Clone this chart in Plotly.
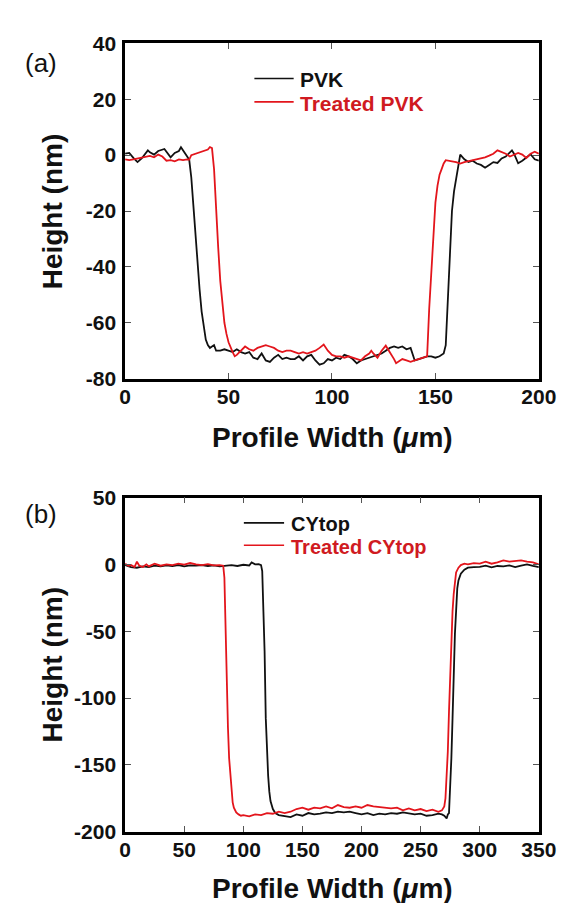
import plotly.graph_objects as go

# ---------------- data ----------------
pvk_x = [0, 2, 4, 6, 8, 10, 11, 12, 14, 16, 18, 19, 20, 22, 24, 26, 27, 28, 30, 31,
         32, 33, 34, 35, 36, 37, 38, 39, 40, 41, 42, 43, 44, 46, 48, 50, 52, 54, 56, 58,
         60, 62, 64, 66, 68, 70, 72, 74, 76, 78, 80, 82, 84, 86, 88, 90, 92, 94, 96, 98,
         100, 102, 104, 106, 108, 110, 112, 114, 116, 118, 120, 122, 124, 126, 128, 130,
         132, 134, 136, 138, 140, 142, 144, 146, 148, 150, 152, 154, 155, 156, 157, 158,
         159, 160, 161, 162, 164, 166, 168, 170, 172, 174, 176, 178, 180, 182, 184, 186,
         187, 188, 190, 192, 194, 196, 198, 200]
pvk_y = [0.5, 0.8, -1.0, -2.5, -1.2, 0.5, 1.7, 1.0, 0.2, 1.5, 2.0, 2.2, 1.2, -0.8, 0.8, 1.5, 2.8, 1.8, -0.5, -1.7,
         -8, -18, -29, -39, -48, -56, -62, -66, -68, -69, -68.5, -68, -70, -70, -69.5, -70, -70.5, -69.5, -70.5, -71,
         -70.5, -72.5, -73, -71, -73.5, -74, -72.5, -71.5, -73, -72.5, -73, -73, -72, -73.5, -72, -71.5, -73.5, -75, -74.5, -73,
         -73.5, -72.5, -73, -71.5, -72, -73, -74.5, -73.5, -73, -72.5, -72, -71.5, -71, -70, -69, -68.5,
         -69, -68.5, -69.5, -69, -73.5, -73, -72.5, -72, -72, -72.5, -72, -71, -68, -50, -33, -20,
         -13, -8.5, -4, 0.2, -1.5, -2.5, -2, -3, -3.5, -4.5, -3.5, -2.5, -2.8, -1.2, -0.5, 0.8,
         1.7, 0.5, -2.9, -2, -1, 0.3, -1.5, -2]

tpvk_x = [0, 2, 4, 6, 8, 10, 12, 14, 16, 18, 20, 22, 24, 26, 28, 30, 31, 32, 34, 36,
          38, 40, 41, 42, 43, 44, 45, 46, 47, 48, 49, 50, 52, 53, 54, 56, 58, 60, 62, 64,
          66, 68, 70, 72, 74, 76, 78, 80, 82, 84, 86, 88, 90, 92, 94, 96, 98, 100, 102, 104,
          106, 108, 110, 112, 114, 116, 118, 119, 120, 122, 124, 126, 128, 130, 131, 132, 134, 136, 138, 140,
          142, 144, 146, 147, 148, 149, 150, 151, 152, 153, 154, 155, 156, 158, 160, 162, 164, 166, 168, 170,
          172, 174, 176, 178, 180, 182, 184, 186, 188, 190, 192, 194, 196, 198, 200]
tpvk_y = [-1.5, -1.8, -1.5, -1.2, -0.8, -0.5, -0.3, -0.8, 0.2, -0.5, -2, -1.8, -2.2, -1.5, -1.8, -1.5, -1.6, 0, 0.5, 0.8,
          1.5, 2, 2.9, 2.5, -5, -21, -33, -45, -54, -60, -64, -67, -70.5, -72, -71.5, -70, -68.5, -69.5, -70, -69,
          -68.5, -68, -68.5, -69, -70, -70.5, -70, -70, -70.5, -71, -70.5, -71, -70.5, -70, -69, -67.8, -70, -71.5, -72, -72,
          -72.5, -72, -72.5, -73, -73.5, -72, -71, -70, -71, -72.5, -70, -68.2, -70.5, -73, -74.5, -74, -73, -73.5, -74, -73.5,
          -73, -72.5, -72, -55, -42, -28, -17, -11, -7, -5, -3, -1.8, -2, -2.2, -2.5, -3, -2.5, -2.2, -1.8, -1.5,
          -1.2, -0.8, -0.2, 0.5, 1.7, 1, 0.5, -0.5, 0.2, 0.8, 0.2, -1, 0.5, 1.2, 0.5]

cy_x = [0, 5, 10, 15, 20, 25, 30, 35, 40, 45, 50, 55, 60, 65, 70, 75, 80, 85, 90, 95,
        100, 105, 107, 110, 113, 115, 116, 117, 118, 119, 120, 121, 122, 123, 125, 127, 130, 135, 140, 145,
        150, 155, 160, 165, 170, 175, 180, 185, 190, 195, 200, 205, 210, 215, 220, 225, 230, 235, 240, 245,
        250, 255, 260, 265, 268, 270, 272, 273, 274, 275, 276, 277, 278, 279, 280, 281, 282, 284, 287, 290,
        295, 300, 305, 310, 315, 320, 325, 330, 335, 340, 345, 350]
cy_y = [-0.5, -2, -2.5, -1.5, -2, -1, -1.5, -0.8, -1.2, -0.5, -1.5, -0.8, -1, -0.5, -1.2, -0.8, -1.5, -1, -0.5, -1.2,
        -0.3, -0.8, 1.5, 0, 0.2, -0.5, -5, -35, -65, -115, -140, -158, -170, -177, -183, -186, -187.5, -188, -189, -187,
        -188, -186, -187, -186.5, -185.5, -186, -185, -185.5, -185, -186, -187, -186, -187.5, -186.5, -187, -186, -186.5, -185.5, -186, -187,
        -186.5, -188, -187.5, -186.5, -187, -188, -190, -187, -186, -170, -145, -115, -80, -52, -35, -18, -12, -7, -4, -2.5,
        -2, -1.8, -1, -2.2, -1.2, -1.5, -0.8, -2, -1, 0, -1.2, -2]

tcy_x = [0, 3, 5, 8, 10, 12, 15, 18, 20, 25, 30, 35, 40, 45, 50, 55, 60, 65, 70, 75,
         80, 83, 84, 85, 86, 87, 88, 89, 90, 91, 92, 94, 96, 98, 100, 105, 110, 115, 120, 125,
         130, 135, 140, 145, 150, 155, 160, 165, 170, 175, 180, 185, 190, 195, 200, 205, 210, 215, 220, 225,
         230, 235, 240, 245, 250, 255, 260, 265, 268, 270, 271, 272, 273, 274, 275, 276, 277, 278, 279, 280,
         282, 284, 287, 290, 295, 300, 305, 310, 315, 320, 325, 330, 335, 340, 345, 350]
tcy_y = [0.5, -1, -0.5, -2, 2, -1, -2, 0, -1.5, 0.5, -1, 0, -0.5, 0.5, -0.2, 1, 0, -0.5, 0.2, -0.8,
         -0.5, -1, -10, -55, -90, -122, -145, -158, -172, -178, -182, -185.5, -187, -188, -187.5, -188.5, -187, -187.5, -186, -186.5,
         -185, -186, -185, -183, -182, -183.5, -182, -182.5, -181, -182.5, -180, -181.5, -182, -181, -182, -180, -181, -181.5, -182, -182.5,
         -182, -184, -182.5, -184, -183, -184.5, -183.5, -185, -184, -181, -175, -158, -140, -110, -82, -55, -35, -22, -12, -6,
         -2.5, -0.5, 0.5, 0, 1, 0.5, 2, 0.5, 1.5, 3, 2, 2.5, 3, 2, 1.5, 0]

xa_ticks = [0, 50, 100, 150, 200]
ya_ticks = [-80, -60, -40, -20, 0, 20, 40]
xb_ticks = [0, 50, 100, 150, 200, 250, 300, 350]
yb_ticks = [-200, -150, -100, -50, 0, 50]

# ---------------- layout helpers ----------------
W, H = 568, 903
FONT = "Arial, Liberation Sans, sans-serif"
BLACK = "#111111"
RED = "#e3151c"
RED_TXT = "#d01a21"


def px(x):
    return x / W


def py(y):
    return 1 - y / H


fig = go.Figure()
fig.add_trace(go.Scatter(x=pvk_x, y=pvk_y, mode="lines", line=dict(color=BLACK, width=1.8),
                         name="PVK", xaxis="x", yaxis="y", showlegend=False))
fig.add_trace(go.Scatter(x=tpvk_x, y=tpvk_y, mode="lines", line=dict(color=RED, width=1.8),
                         name="Treated PVK", xaxis="x", yaxis="y", showlegend=False))
fig.add_trace(go.Scatter(x=cy_x, y=cy_y, mode="lines", line=dict(color=BLACK, width=1.8),
                         name="CYtop", xaxis="x2", yaxis="y2", showlegend=False))
fig.add_trace(go.Scatter(x=tcy_x, y=tcy_y, mode="lines", line=dict(color=RED, width=1.8),
                         name="Treated CYtop", xaxis="x2", yaxis="y2", showlegend=False))


def axis(ticks, rng, dom, anchor, standoff=0):
    return dict(range=rng, domain=dom, anchor=anchor, tickmode="array", tickvals=ticks,
                ticktext=[str(t) for t in ticks], showline=True, linecolor="black",
                linewidth=2.5, mirror="ticks", ticks="inside", ticklen=6, tickwidth=1,
                tickcolor="#555555", showgrid=False, zeroline=False,
                ticklabelstandoff=standoff,
                tickfont=dict(family=FONT, size=21, color=BLACK, weight="bold"))


xdom = [px(116), px(548)]
fig.update_layout(
    width=W, height=H, margin=dict(l=0, r=0, t=0, b=0),
    paper_bgcolor="white", plot_bgcolor="white",
    xaxis=axis(xa_ticks, [0, 200], xdom, "y", -3),
    yaxis=axis(ya_ticks, [-80, 40], [py(368), py(24)], "x", 2),
    xaxis2=axis(xb_ticks, [0, 350], xdom, "y2", -3),
    yaxis2=axis(yb_ticks, [-200, 50], [py(833), py(490)], "x2", 2),
)

ann = []


def text(x, y, s, size, color=BLACK, xanchor="center", angle=0):
    ann.append(dict(x=px(x), y=py(y), xref="paper", yref="paper", text=s, showarrow=False,
                    xanchor=xanchor, yanchor="middle", textangle=angle,
                    font=dict(family=FONT, size=size, color=color)))


# axis titles
text(40, 196, "<b>Height (nm)</b>", 28, angle=-90)
text(333, 428, "<b>Profile Width (<i>μ</i>m)</b>", 28)
text(40, 661, "<b>Height (nm)</b>", 28, angle=-90)
text(333, 891, "<b>Profile Width (<i>μ</i>m)</b>", 28)
# panel labels
text(28, 44, "(a)", 26)
text(28, 507, "(b)", 26)
# legends
text(297, 61, "<b>PVK</b>", 21, xanchor="left")
text(297, 86, "<b>Treated PVK</b>", 21, color=RED_TXT, xanchor="left")
text(287, 517, "<b>CYtop</b>", 20, xanchor="left")
text(287, 541, "<b>Treated CYtop</b>", 20, color=RED_TXT, xanchor="left")

shapes = []
for x0, x1, y, c in [(251, 292, 60, BLACK), (251, 292, 84, RED),
                     (240, 282, 516, BLACK), (240, 282, 539, RED)]:
    shapes.append(dict(type="line", xref="paper", yref="paper", x0=px(x0), x1=px(x1),
                       y0=py(y), y1=py(y), line=dict(color=c, width=1.6)))

fig.update_layout(annotations=ann, shapes=shapes)
fig.write_html("out.html")
